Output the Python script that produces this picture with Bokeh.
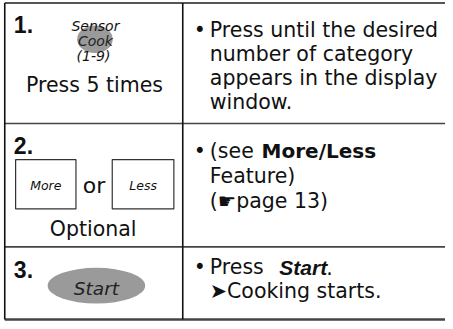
from bokeh.plotting import figure
from bokeh.models import Range1d
from bokeh.core.properties import value
from bokeh.embed import file_html
from bokeh.resources import INLINE

# ---- content ----
step_labels = ["1.", "2.", "3."]
dial_labels = ["Sensor", "Cook", "(1-9)"]
captions = ["Press 5 times", "Optional"]
pad_labels = ["More", "Less"]
joiner = "or"
start_label = "Start"
bullet = "\u2022"
row1_lines = ["Press until the desired", "number of category",
              "appears in the display", "window."]
row2_pre = "(see"
row2_bold = "More/Less"
row2_lines = ["Feature)", "(\u261bpage 13)"]
row3_pre = "Press"
row3_bold = "Start"
row3_post = "."
row3_line2 = "\u27a4Cooking starts."

BODY = "DejaVu Sans"
HELV = "Liberation Sans"
INK = "#111111"
FS = 20.5
YS = 321 / 327.0  # px per data unit vertically
DESC = {BODY: 0.236, HELV: 0.212}

p = figure(width=445, height=321, x_range=Range1d(3, 453), y_range=Range1d(329, 2),
           output_backend="svg", toolbar_location=None,
           x_axis_type=None, y_axis_type=None, min_border=0,
           outline_line_color=None, background_fill_color="white",
           border_fill_color="white")
p.xgrid.visible = False
p.ygrid.visible = False


def txt(x, y, s, size, style="normal", align="left", color=INK, font=BODY):
    # y is the wanted baseline; compensate for the descent offset of the layout
    yy = y - DESC[font] * size / YS
    p.text(x=[x], y=[yy], text=[s], text_font=value(font),
           text_font_size=f"{size}px", text_font_style=style,
           text_align=align, text_baseline="alphabetic", text_color=color)


# ---- table rules ----
L, M, R = 7.3, 187.3, 470
p.segment(x0=[L], y0=[4.6], x1=[R], y1=[4.6], line_color="#555555", line_width=2)
p.segment(x0=[L, L], y0=[127.3, 253.0], x1=[R, R], y1=[127.3, 253.0],
          line_color="#444444", line_width=1.6)
p.segment(x0=[L], y0=[327.0], x1=[R], y1=[327.0], line_color="#444444", line_width=2.6)
p.segment(x0=[L, M], y0=[4.6, 4.6], x1=[L, M], y1=[327.0, 327.0],
          line_color="#111111", line_width=1.6)

# ---- step numbers ----
for lab, yb in zip(step_labels, [31.5, 155.0, 280.5]):
    txt(16.5, yb, lab, 23, style="bold", font=HELV)

# ---- row 1 left: sensor cook key ----
p.ellipse(x=[98.5], y=[41.5], width=[36], height=[28],
          fill_color="#9a9a9a", line_color=None)
txt(99, 31.5, dial_labels[0], 14, style="italic", align="center")
txt(99, 46.5, dial_labels[1], 14, style="italic", align="center", color="#222222")
txt(97, 62.0, dial_labels[2], 14, style="italic", align="center")
txt(98, 93.5, captions[0], FS, align="center")

# ---- row 2 left: More / Less pads ----
p.quad(left=[18.3, 116.0], right=[79.3, 178.3], top=[164.0, 164.0],
       bottom=[214.3, 214.3], fill_color="white", line_color="#333333", line_width=1.2)
txt(48.8, 193.5, pad_labels[0], 12.5, style="italic", align="center")
txt(147.2, 193.5, pad_labels[1], 12.5, style="italic", align="center")
txt(97.5, 196.0, joiner, 22, align="center")
txt(96.7, 240.0, captions[1], FS, align="center")

# ---- row 3 left: Start pad ----
p.ellipse(x=[100], y=[292.5], width=[98.6], height=[36.4],
          fill_color="#9a9a9a", line_color=None)
txt(100, 299.5, start_label, 18.5, style="italic", align="center", color="#222222")

# ---- right column ----
TX, BX = 214.7, 198.5
row1_base = [36.7, 61.5, 86.0, 110.3]
txt(BX, row1_base[0], bullet, FS)
for s, yb in zip(row1_lines, row1_base):
    txt(TX, yb, s, FS)

row2_base = [160.0, 186.0, 211.0]
txt(BX, row2_base[0], bullet, FS)
txt(TX, row2_base[0], row2_pre, FS)
txt(267.0, row2_base[0], row2_bold, 20, style="bold")
for s, yb in zip(row2_lines, row2_base[1:]):
    txt(TX, yb, s, FS)

row3_base = [278.5, 302.5]
txt(BX, row3_base[0], bullet, FS)
txt(TX, row3_base[0], row3_pre, FS)
txt(285.0, row3_base[0], row3_bold, 21, style="bold italic", font=HELV)
txt(332.5, row3_base[0], row3_post, FS)
txt(TX, row3_base[1], row3_line2, FS)

open("out.html", "w").write(file_html(p, INLINE))
